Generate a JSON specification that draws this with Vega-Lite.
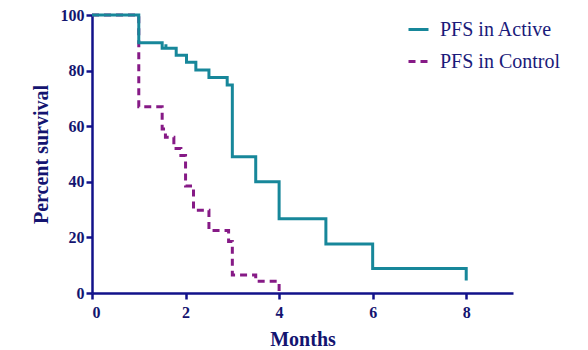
{
  "$schema": "https://vega.github.io/schema/vega-lite/v6.json",
  "width": 421,
  "height": 278,
  "autosize": {"type": "none"},
  "padding": {"left": 92, "top": 15, "right": 75, "bottom": 57},
  "background": "white",
  "data": {
    "values": [
      {"group": "PFS in Control", "o": 1, "month": 0, "pct": 100},
      {"group": "PFS in Control", "o": 2, "month": 1, "pct": 67},
      {"group": "PFS in Control", "o": 3, "month": 1.5, "pct": 59},
      {"group": "PFS in Control", "o": 4, "month": 1.57, "pct": 56},
      {"group": "PFS in Control", "o": 5, "month": 1.75, "pct": 52},
      {"group": "PFS in Control", "o": 6, "month": 1.9, "pct": 49.5},
      {"group": "PFS in Control", "o": 7, "month": 2.0, "pct": 38.5},
      {"group": "PFS in Control", "o": 8, "month": 2.17, "pct": 29.8},
      {"group": "PFS in Control", "o": 9, "month": 2.5, "pct": 22.5},
      {"group": "PFS in Control", "o": 10, "month": 2.92, "pct": 18.5},
      {"group": "PFS in Control", "o": 11, "month": 3.0, "pct": 6.5},
      {"group": "PFS in Control", "o": 12, "month": 3.5, "pct": 4.2},
      {"group": "PFS in Control", "o": 13, "month": 4.0, "pct": 0},
      {"group": "PFS in Active", "o": 1, "month": 0, "pct": 100},
      {"group": "PFS in Active", "o": 2, "month": 1, "pct": 90},
      {"group": "PFS in Active", "o": 3, "month": 1.5, "pct": 88},
      {"group": "PFS in Active", "o": 4, "month": 1.58, "pct": 89.5},
      {"group": "PFS in Active", "o": 5, "month": 1.58, "pct": 88},
      {"group": "PFS in Active", "o": 6, "month": 1.8, "pct": 85.5},
      {"group": "PFS in Active", "o": 7, "month": 2.02, "pct": 83},
      {"group": "PFS in Active", "o": 8, "month": 2.22, "pct": 80.2},
      {"group": "PFS in Active", "o": 9, "month": 2.5, "pct": 77.5},
      {"group": "PFS in Active", "o": 10, "month": 2.89, "pct": 74.8},
      {"group": "PFS in Active", "o": 11, "month": 3, "pct": 49},
      {"group": "PFS in Active", "o": 12, "month": 3.5, "pct": 40},
      {"group": "PFS in Active", "o": 13, "month": 4, "pct": 26.7},
      {"group": "PFS in Active", "o": 14, "month": 5, "pct": 17.6},
      {"group": "PFS in Active", "o": 15, "month": 6, "pct": 8.8},
      {"group": "PFS in Active", "o": 16, "month": 8, "pct": 8.8},
      {"group": "PFS in Active", "o": 17, "month": 8, "pct": 4.5}
    ]
  },
  "mark": {"type": "line", "interpolate": "step-after", "strokeWidth": 3},
  "encoding": {
    "x": {
      "field": "month", "type": "quantitative",
      "scale": {"domain": [0, 9], "nice": false, "zero": true},
      "axis": {
        "title": "Months", "values": [0, 2, 4, 6, 8], "grid": false,
        "domainColor": "#12128a", "domainWidth": 2.5, "tickColor": "#12128a", "tickWidth": 2.5, "tickSize": 6,
        "labelFont": "Liberation Serif", "labelFontSize": 16, "labelFontWeight": "bold", "labelColor": "#141470", "labelPadding": 5,
        "titleFont": "Liberation Serif", "titleFontSize": 20, "titleFontWeight": "bold", "titleColor": "#141470", "titlePadding": 9
      }
    },
    "y": {
      "field": "pct", "type": "quantitative",
      "scale": {"domain": [0, 100], "nice": false},
      "axis": {
        "title": "Percent survival", "values": [0, 20, 40, 60, 80, 100], "grid": false,
        "domainColor": "#12128a", "domainWidth": 2.5, "tickColor": "#12128a", "tickWidth": 2.5, "tickSize": 6,
        "labelFont": "Liberation Serif", "labelFontSize": 16, "labelFontWeight": "bold", "labelColor": "#141470", "labelPadding": 2,
        "titleFont": "Liberation Serif", "titleFontSize": 20, "titleFontWeight": "bold", "titleColor": "#141470", "titlePadding": 9
      }
    },
    "order": {"field": "o", "type": "quantitative"},
    "color": {
      "field": "group", "type": "nominal",
      "scale": {"domain": ["PFS in Active", "PFS in Control"], "range": ["#17879a", "#861a86"]},
      "legend": {
        "title": null, "orient": "none", "legendX": 315, "legendY": 3,
        "labelFont": "Liberation Serif", "labelFontSize": 20, "labelColor": "#1a1a7a",
        "symbolType": "stroke", "symbolSize": 400, "symbolStrokeWidth": 3, "rowPadding": 10, "labelOffset": 10
      }
    },
    "strokeDash": {
      "field": "group", "type": "nominal",
      "scale": {"domain": ["PFS in Active", "PFS in Control"], "range": [[1, 0], [7, 5]]},
      "legend": null
    }
  },
  "config": {"view": {"stroke": null}}
}
